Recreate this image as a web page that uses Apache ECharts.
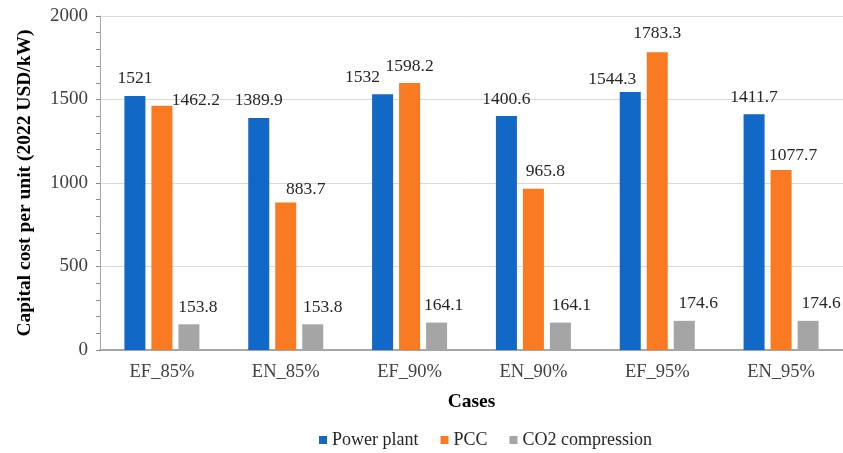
<!DOCTYPE html>
<html>
<head>
<meta charset="utf-8">
<script src="https://cdn.jsdelivr.net/npm/echarts@6/dist/echarts.min.js"></script>
<style>html,body{margin:0;padding:0;background:#fff}#c{width:843px;height:453px}</style>
</head>
<body>
<div id="c"></div>
<script>
var categories = ['EF_85%', 'EN_85%', 'EF_90%', 'EN_90%', 'EF_95%', 'EN_95%'];
var powerPlant = [1521, 1389.9, 1532, 1400.6, 1544.3, 1411.7];
var pcc = [1462.2, 883.7, 1598.2, 965.8, 1783.3, 1077.7];
var co2Compression = [153.8, 153.8, 164.1, 164.1, 174.6, 174.6];
var yTicks = [0, 500, 1000, 1500, 2000];

// label placement tweaks (style only)
var labelShift = {
  'Power plant': [[0,-1],[0,0],[-20,0],[0,0],[-18,4],[0,0]],
  'PCC': [[34,12],[20,4],[0,0],[12,0],[0,-2],[12,2]],
  'CO2 compression': [[9,0],[10,0],[7,0],[11,0],[14,0],[13,0]]
};
var FONT = 'Liberation Serif, Times New Roman, serif';

function mkSeries(name, values, color) {
  return {
    name: name,
    type: 'bar',
    barWidth: 21,
    barGap: '28.6%',
    itemStyle: { color: color },
    data: values.map(function (v, i) {
      return { value: v, label: { offset: labelShift[name][i] } };
    }),
    label: {
      show: true,
      position: 'top',
      distance: 8,
      color: '#262626',
      fontFamily: FONT,
      fontSize: 17.5,
      formatter: function (p) { return String(p.value); }
    }
  };
}

var chart = echarts.init(document.getElementById('c'));
chart.setOption({
  animation: false,
  backgroundColor: '#fff',
  grid: { left: 100, right: 0, top: 16, bottom: 103, containLabel: false },
  legend: {
    left: 314,
    top: 426,
    icon: 'rect',
    itemWidth: 8,
    itemHeight: 8,
    itemGap: 22,
    textStyle: { fontFamily: FONT, fontSize: 18, color: '#262626' },
    data: ['Power plant', 'PCC', 'CO2 compression']
  },
  xAxis: {
    type: 'category',
    data: categories,
    name: 'Cases',
    nameLocation: 'middle',
    nameGap: 42,
    nameTextStyle: { fontFamily: FONT, fontSize: 19.5, fontWeight: 'bold', color: '#000' },
    axisLine: { lineStyle: { color: '#a6a6a6', width: 2 } },
    axisTick: { show: false },
    axisLabel: { fontFamily: FONT, fontSize: 18.5, color: '#404040', margin: 13 }
  },
  yAxis: {
    type: 'value',
    min: yTicks[0],
    max: yTicks[yTicks.length - 1],
    interval: 500,
    name: 'Capital cost per unit (2022 USD/kW)',
    nameLocation: 'middle',
    nameGap: 65,
    nameTextStyle: { fontFamily: FONT, fontSize: 19.5, fontWeight: 'bold', color: '#000' },
    axisLine: { show: true, lineStyle: { color: '#a6a6a6', width: 1 } },
    axisTick: { show: true, length: 4, lineStyle: { color: '#8c8c8c' } },
    minorTick: { show: true, splitNumber: 5, length: 4, lineStyle: { color: '#8c8c8c' } },
    splitLine: { lineStyle: { color: '#d9d9d9', width: 1 } },
    axisLabel: {
      fontFamily: FONT, fontSize: 19, color: '#404040', margin: 12,
      formatter: function (v) { return String(v); }
    }
  },
  series: [
    mkSeries('Power plant', powerPlant, '#1168C6'),
    mkSeries('PCC', pcc, '#FA7A22'),
    mkSeries('CO2 compression', co2Compression, '#A5A5A5')
  ]
});
</script>
</body>
</html>
